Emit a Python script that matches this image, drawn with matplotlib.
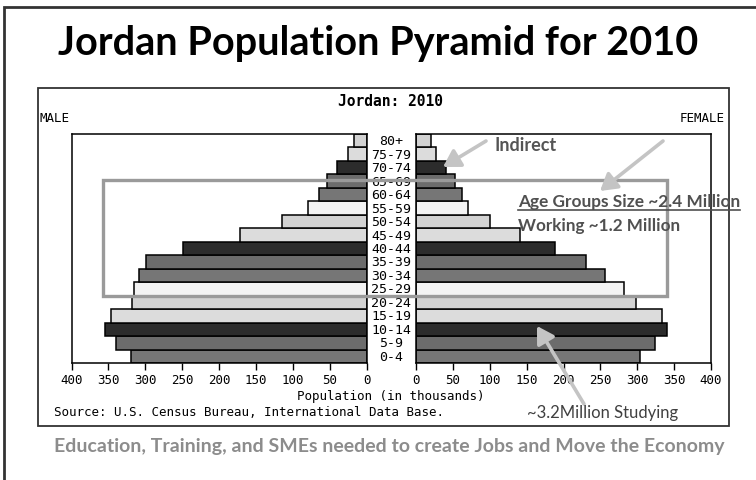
import matplotlib
matplotlib.use("Agg")
import matplotlib.pyplot as plt
from matplotlib import transforms
from matplotlib.patches import Rectangle, FancyArrowPatch
import numpy as np

# Age groups, bottom to top
age_groups = ["0-4", "5-9", "10-14", "15-19", "20-24", "25-29", "30-34", "35-39",
              "40-44", "45-49", "50-54", "55-59", "60-64", "65-69", "70-74",
              "75-79", "80+"]
# Population in thousands
male = [320, 339, 355, 347, 318, 315, 308, 299, 249, 172, 114, 80, 65, 53, 40, 25, 17]
female = [304, 324, 340, 333, 298, 282, 256, 231, 188, 141, 100, 71, 63, 53, 41, 27, 21]
ticks = [0, 50, 100, 150, 200, 250, 300, 350, 400]

# six-shade cycle used by the census pyramid
shades = ["#767676", "#6c6c6c", "#2c2c2c", "#dcdcdc", "#d2d2d2", "#f3f3f3"]
bar_colors = [shades[i % 6] for i in range(len(age_groups))]

mono = "DejaVu Sans Mono"
sans = "Lato"

W, H = 756, 481
fig = plt.figure(figsize=(W / 100, H / 100), dpi=100)

def px_axes(x0, y0, x1, y1):
    # axes rectangle given in pixel coordinates (origin top-left)
    return fig.add_axes([x0 / W, 1 - y1 / H, (x1 - x0) / W, (y1 - y0) / H])

ax_l = px_axes(71.5, 135, 366.5, 364)
ax_r = px_axes(416, 135, 711, 364)
y = np.arange(len(age_groups))

ax_l.barh(y, male, height=1.0, color=bar_colors, edgecolor="black", linewidth=1.1)
ax_r.barh(y, female, height=1.0, color=bar_colors, edgecolor="black", linewidth=1.1)
ax_l.set_xlim(400, 0)
ax_r.set_xlim(0, 400)

for ax in (ax_l, ax_r):
    ax.set_ylim(-0.5, len(age_groups) - 0.5)
    ax.set_yticks([])
    ax.set_xticks(ticks)
    ax.set_xticklabels([str(t) for t in ticks], family=mono, fontsize=9)
    ax.tick_params(axis="x", direction="out", length=5, width=1, pad=2)
    for s in ax.spines.values():
        s.set_linewidth(1.1)

# age labels between the two halves
trans = transforms.blended_transform_factory(fig.transFigure, ax_r.transData)
for i, lab in enumerate(age_groups):
    fig.text(391 / W, i, lab, transform=trans, ha="center", va="center",
             family=mono, fontsize=9.5)

# overlay in pixel coordinates for frame, titles and call-outs
ov = fig.add_axes([0, 0, 1, 1], zorder=10)
ov.set_xlim(0, W)
ov.set_ylim(H, 0)
ov.axis("off")
ov.patch.set_alpha(0)

# slide frame
ov.plot([4, 4, W], [H, 8, 8], color="#333333", lw=2, solid_joinstyle="miter")
# chart frame
ov.add_patch(Rectangle((38, 89), 691, 338, fill=False, ec="#333333", lw=1.3))

ov.text(378, 43, "Jordan Population Pyramid for 2010", ha="center", va="center",
        family=sans, fontweight="bold", fontsize=28.5, color="black")
ov.text(390, 101, "Jordan: 2010", ha="center", va="center", family=mono,
        fontweight="bold", fontsize=10.5)
ov.text(40, 118, "MALE", ha="left", va="center", family=mono, fontsize=9)
ov.text(725, 118, "FEMALE", ha="right", va="center", family=mono, fontsize=9)
ov.text(391, 397, "Population (in thousands)", ha="center", va="center",
        family=mono, fontsize=9)
ov.text(54, 413, "Source: U.S. Census Bureau, International Data Base.",
        ha="left", va="center", family=mono, fontsize=9)
ov.text(527, 413, "~3.2Million Studying", ha="left", va="center",
        family=sans, fontsize=12, color="#404040")
ov.text(389, 447, "Education, Training, and SMEs needed to create Jobs and Move the Economy",
        ha="center", va="center", family=sans, fontweight="bold", fontsize=14,
        color="#8c8c8c")

# working-age box
ov.add_patch(Rectangle((103, 181), 564, 116, fill=False, ec="#9a9a9a", lw=2.4))

ov.text(494, 146, "Indirect", ha="left", va="center", family=sans,
        fontweight="bold", fontsize=13, color="#555555")
ov.text(518, 202, "Age Groups Size ~2.4 Million", ha="left", va="center",
        family=sans, fontweight="bold", fontsize=12.4, color="#505050")
ov.plot([518, 740], [210.5, 210.5], color="#505050", lw=1.2)
ov.text(518, 226, "Working ~1.2 Million", ha="left", va="center",
        family=sans, fontweight="bold", fontsize=12.3, color="#505050")

arrow_kw = dict(arrowstyle="-|>,head_length=5,head_width=3", color="#c4c4c4",
                lw=2.6, shrinkA=0, shrinkB=0, mutation_scale=2)
for (x0, y0), (x1, y1) in [((486, 142), (443, 168)),
                           ((663, 142), (600, 192)),
                           ((584, 405), (537, 327))]:
    ov.add_patch(FancyArrowPatch((x0, y0), (x1, y1), **arrow_kw))

fig.savefig("out.png", dpi=100)
